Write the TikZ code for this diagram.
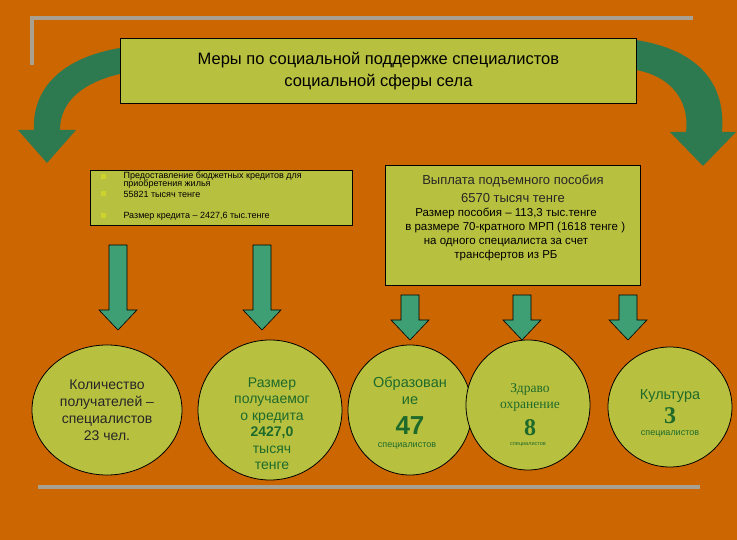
\documentclass[tikz,border=0pt]{standalone}
\usepackage{fontspec}
\usetikzlibrary{shapes.geometric}
\setmainfont{Liberation Sans}
\newfontfamily\serifb{Liberation Serif}
\definecolor{bg}{HTML}{CC6600}
\definecolor{box}{HTML}{B8C040}
\definecolor{dg}{HTML}{2E7A50}
\definecolor{ag}{HTML}{3E9E74}
\definecolor{tg}{HTML}{1E6A2A}
\definecolor{ln}{HTML}{A8A090}
\begin{document}
\begin{tikzpicture}[x=1pt,y=-1pt,
  panel/.style={draw=black,fill=box,line width=0.8pt},
  oval/.style={ellipse,draw=black,fill=box,line width=0.8pt,inner sep=0pt},
  darr/.style={draw=black,fill=ag,line width=0.6pt},
  txt/.style={align=center,text=tg,font=\fontsize{14.5}{17}\selectfont}]
\fill[bg] (0,0) rectangle (737,540);
\useasboundingbox (0,0) rectangle (737,540);
\draw[ln,line width=4pt] (30,18) -- (693,18);
\draw[ln,line width=4pt] (32,16) -- (32,65);
\draw[ln,line width=4pt] (38,487) -- (700,487);
% curved arrows
\fill[dg] (120,48) .. controls (60,58) and (32,90) .. (34,130) -- (18,130) -- (47,163) -- (76,130) -- (60,130) .. controls (60,100) and (85,82) .. (120,74) -- cycle;
\fill[dg] (636,40) .. controls (700,50) and (726,85) .. (722,132) -- (736,132) -- (703,166) -- (670,132) -- (686,132) .. controls (690,100) and (670,76) .. (636,70) -- cycle;
\node[panel,minimum width=516pt,minimum height=65pt,anchor=north west,align=center,font=\fontsize{16.5}{22}\selectfont] (title) at (120,38) {Меры по социальной поддержке специалистов\\социальной сферы села};
\node[panel,minimum width=262pt,minimum height=55pt,anchor=north west] (lb) at (90,170) {};
\foreach \y in {177,194,216} \fill[box!70!yellow] (103,\y) +(-2.5,-2.5) rectangle +(2.5,2.5);
\node[anchor=west,align=left,font=\fontsize{9}{8.5}\selectfont] (l1) at (120,180) {Предоставление бюджетных кредитов для\\приобретения жилья};
\node[anchor=west,font=\fontsize{9}{9}\selectfont] (l2) at (120,194) {55821 тысяч тенге};
\node[anchor=west,font=\fontsize{9}{9}\selectfont] (l3) at (120,216) {Размер кредита – 2427,6 тыс.тенге};
\node[panel,minimum width=255pt,minimum height=120pt,anchor=north west] (rb) at (385,165) {};
\node[align=center,font=\fontsize{13}{18}\selectfont,text=black!85] (r1) at (513,189) {Выплата подъемного пособия\\6570 тысяч тенге};
\node[align=center,font=\fontsize{11.5}{14}\selectfont] (r2) at (506,234) {Размер пособия – 113,3 тыс.тенге\\\hspace*{1.6em}в размере 70-кратного МРП  (1618 тенге )\\на одного специалиста за счет\\трансфертов из РБ};
% down arrows
\foreach \x/\a/\b in {118/245/330,262/245/330,410/295/340,522/295/340,628/295/340}{
  \draw[darr] (\x-9,\a) -- (\x+9,\a) -- (\x+9,\b-20) -- (\x+19,\b-20) -- (\x,\b) -- (\x-19,\b-20) -- (\x-9,\b-20) -- cycle;}
\node[oval,minimum width=150pt,minimum height=130pt] (e1) at (107,410) {};
\node[txt,font=\fontsize{14}{17}\selectfont,text=black!85] at (e1) {Количество\\получателей –\\специалистов\\23 чел.};
\node[oval,minimum width=144pt,minimum height=140pt] (e2) at (270,410) {};
\node[txt,font=\fontsize{14}{16.5}\selectfont] at (272,424) {Размер\\получаемог\\о кредита\\\textbf{2427,0}\\тысяч\\тенге};
\node[oval,minimum width=124pt,minimum height=130pt] (e3) at (410,410) {};
\node[txt] at (410,391) {Образован\\ие};
\node[txt,font=\bfseries\fontsize{26}{26}\selectfont] at (410,426) {47};
\node[txt,font=\fontsize{9}{10}\selectfont] at (407,446) {специалистов};
\node[oval,minimum width=124pt,minimum height=130pt] (e4) at (528,405) {};
\node[txt,font=\serifb\fontsize{13.5}{16}\selectfont] at (530,397) {Здраво\\охранение};
\node[txt,font=\serifb\bfseries\fontsize{24}{24}\selectfont] at (530,428) {8};
\node[txt,font=\fontsize{5.5}{6}\selectfont] at (528,445) {специалистов};
\node[oval,minimum width=124pt,minimum height=120pt] (e5) at (670,407) {};
\node[txt] at (670,396) {Культура};
\node[txt,font=\serifb\bfseries\fontsize{24}{24}\selectfont] at (670,416) {3};
\node[txt,font=\fontsize{9}{10}\selectfont] at (670,434) {специалистов};
\end{tikzpicture}
\end{document}
